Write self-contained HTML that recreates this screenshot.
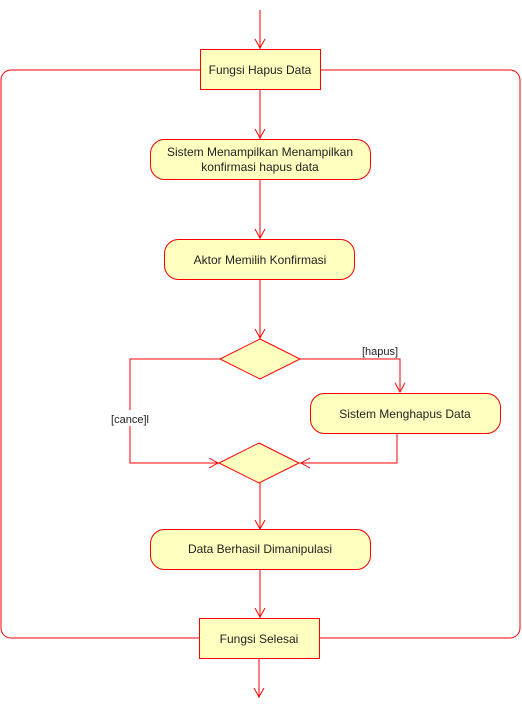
<!DOCTYPE html>
<html><head><meta charset="utf-8"><style>html,body{margin:0;padding:0;background:#fff}svg{display:block}</style></head>
<body>
<svg width="522" height="710" xmlns="http://www.w3.org/2000/svg" font-family="Liberation Sans, Arial, sans-serif" font-size="12" fill="#222">
<g stroke="#ff0000" stroke-width="1" fill="none">
<rect x="1" y="70" width="519" height="568" rx="10"/>
<line x1="260" y1="10" x2="260" y2="49"/>
<path d="M255,39 L260,48 L265,39"/>
<line x1="260" y1="89" x2="260" y2="139"/>
<path d="M255,129 L260,138 L265,129"/>
<line x1="260" y1="179" x2="260" y2="239"/>
<path d="M255,229 L260,238 L265,229"/>
<line x1="260" y1="279" x2="260" y2="339"/>
<path d="M255,329 L260,338 L265,329"/>
<polyline points="300,359 400,359 400,392"/>
<path d="M395,383 L400,392 L405,383"/>
<polyline points="220,359 130,359 130,463 219,463"/>
<path d="M209,458 L218,463 L209,468"/>
<polyline points="397,433 397,463 300,463"/>
<path d="M310,458 L301,463 L310,468"/>
<line x1="260" y1="483" x2="260" y2="529"/>
<path d="M255,520 L260,529 L265,520"/>
<line x1="260" y1="569" x2="260" y2="618"/>
<path d="M255,608 L260,617 L265,608"/>
<line x1="259" y1="658" x2="259" y2="698"/>
<path d="M254,688 L259,697 L264,688"/>
</g>
<g stroke="#ff0000" stroke-width="1" fill="#ffffc0">
<rect x="200.5" y="49.5" width="120" height="40"/>
<rect x="150.5" y="139.5" width="220" height="40" rx="14"/>
<rect x="164.5" y="239.5" width="190" height="40" rx="14"/>
<polygon points="260,339 300,359 260,379 220,359"/>
<rect x="310.5" y="393.5" width="190" height="40" rx="14"/>
<polygon points="259,443 299,463 259,483 219,463"/>
<rect x="150.5" y="529.5" width="220" height="40" rx="14"/>
<rect x="199.5" y="618.5" width="120" height="40"/>
</g>
<g text-anchor="middle">
<text x="260" y="74">Fungsi  Hapus Data</text>
<text x="260" y="156">Sistem Menampilkan Menampilkan</text>
<text x="260" y="171">konfirmasi hapus data</text>
<text x="260" y="264">Aktor Memilih Konfirmasi</text>
<text x="405" y="418">Sistem Menghapus Data</text>
<text x="260" y="553">Data Berhasil Dimanipulasi</text>
<text x="259" y="643">Fungsi Selesai</text>
</g>
<rect x="110" y="410" width="40" height="16" fill="#fff"/>
<text x="380" y="355" font-size="11" text-anchor="middle">[hapus]</text>
<text x="130" y="423" font-size="11" text-anchor="middle">[cance]l</text>
</svg>
</body></html>
